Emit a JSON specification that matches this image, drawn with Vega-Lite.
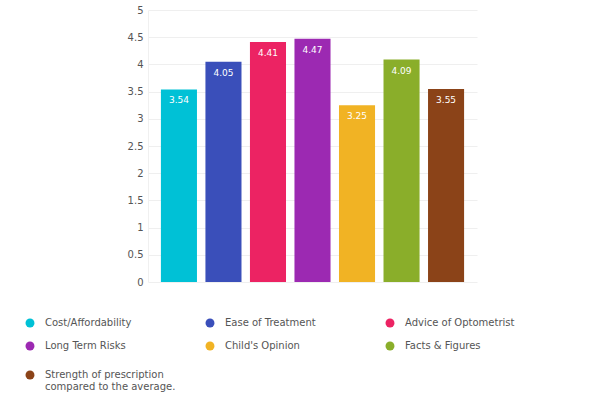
{
  "$schema": "https://vega.github.io/schema/vega-lite/v6.json",
  "width": 329,
  "height": 272,
  "autosize": "none",
  "padding": {"left": 148, "top": 10, "right": 123, "bottom": 115},
  "background": "white",
  "config": {"view": {"stroke": null}, "font": "DejaVu Sans"},
  "data": {"values": [
    {"factor": "Cost/Affordability", "score": 3.54},
    {"factor": "Ease of Treatment", "score": 4.05},
    {"factor": "Advice of Optometrist", "score": 4.41},
    {"factor": "Long Term Risks", "score": 4.47},
    {"factor": "Child's Opinion", "score": 3.25},
    {"factor": "Facts & Figures", "score": 4.09},
    {"factor": "Strength of prescription compared to the average.", "score": 3.55}
  ]},
  "encoding": {
    "x": {"field": "factor", "type": "nominal", "sort": null,
      "scale": {"paddingInner": 0.19, "paddingOuter": 0.29},
      "axis": {"labels": false, "ticks": false, "title": null, "domain": false}},
    "y": {"field": "score", "type": "quantitative",
      "scale": {"domain": [0, 5]},
      "axis": {"values": [0, 0.5, 1, 1.5, 2, 2.5, 3, 3.5, 4, 4.5, 5], "title": null,
        "domainColor": "#f0f0f0", "ticks": false, "gridColor": "#efefef",
        "labelColor": "#555", "labelFontSize": 10, "labelPadding": 5,
        "labelExpr": "datum.value"}}
  },
  "layer": [
    {"mark": {"type": "bar"},
      "encoding": {
        "color": {"field": "factor", "type": "nominal", "sort": null,
          "scale": {"range": ["#00C1D6", "#3A4FBA", "#EC2363", "#9C29B2", "#F1B324", "#8AAE2A", "#8B4318"]},
          "legend": {"orient": "none", "direction": "horizontal", "legendX": -123, "legendY": 302, "columns": 3,
            "gridAlign": "all", "columnPadding": 29, "rowPadding": 7,
            "title": null, "symbolType": "circle", "symbolSize": 80, "symbolStrokeWidth": 0,
            "labelFontSize": 10, "labelColor": "#555", "labelOffset": 10, "labelLimit": 200,
            "labelExpr": "datum.label == 'Strength of prescription compared to the average.' ? ['Strength of prescription', 'compared to the average.'] : datum.label"}
        }}},
    {"mark": {"type": "text", "color": "white", "fontSize": 9, "baseline": "top", "dy": 7},
      "encoding": {"text": {"field": "score", "type": "quantitative", "format": ".2f"}}}
  ]
}
